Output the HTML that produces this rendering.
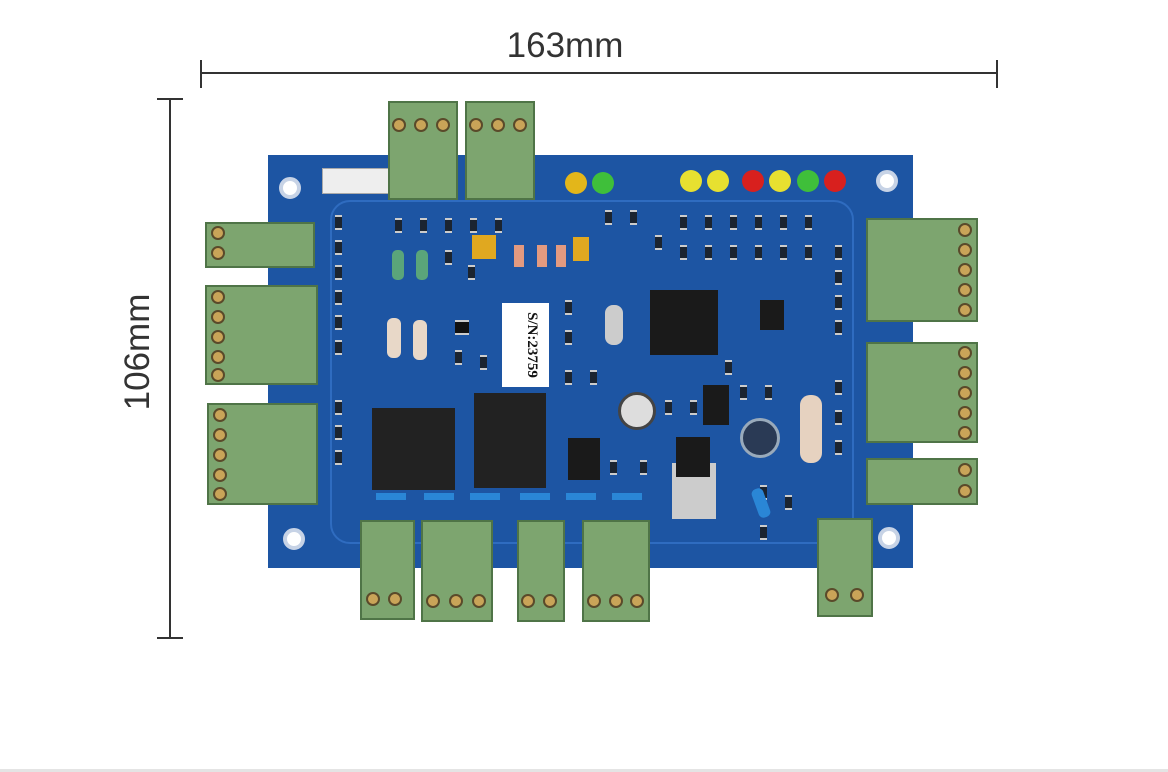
<!DOCTYPE html>
<html><head><style>
body{margin:0;width:1168px;height:772px;background:#fff;position:relative;overflow:hidden;font-family:"Liberation Sans",sans-serif}
.a{position:absolute}
.tb{position:absolute;background:#7da56f;border:2px solid #4f7447;box-sizing:border-box}
.sc{position:absolute;width:14px;height:14px;border-radius:50%;background:#c9a458;border:2px solid #5a4a2a;box-sizing:border-box}
.hole{position:absolute;width:22px;height:22px;border-radius:50%;background:#fff;border:4px solid #c7d3e6;box-sizing:border-box}
.led{position:absolute;width:22px;height:22px;border-radius:50%}
.blk{position:absolute;background:#1a1a1a}
.s{position:absolute;width:7px;height:11px;background:#1b2430;border-top:2px solid #ccc;border-bottom:2px solid #ccc}
</style></head><body>
<div class="a" style="left:0;top:769px;width:1168px;height:3px;background:#e4e4e4"></div>
<div class="a" style="left:201px;top:72px;width:796px;height:2px;background:#333"></div>
<div class="a" style="left:200px;top:60px;width:2px;height:28px;background:#333"></div>
<div class="a" style="left:996px;top:60px;width:2px;height:28px;background:#333"></div>
<div class="a" style="left:440px;top:26px;width:250px;text-align:center;font-size:35px;color:#333">163mm</div>
<div class="a" style="left:169px;top:99px;width:2px;height:540px;background:#333"></div>
<div class="a" style="left:157px;top:98px;width:26px;height:2px;background:#333"></div>
<div class="a" style="left:157px;top:637px;width:26px;height:2px;background:#333"></div>
<div class="a" style="left:38px;top:332px;width:200px;text-align:center;font-size:35px;color:#333;transform:rotate(-90deg)">106mm</div>
<div class="a" style="left:268px;top:155px;width:645px;height:413px;background:#1d55a3"></div>
<div class="a" style="left:330px;top:200px;width:520px;height:340px;border:2px solid #2f6cc0;border-radius:20px"></div>
<div class="hole" style="left:279px;top:177px"></div>
<div class="hole" style="left:876px;top:170px"></div>
<div class="hole" style="left:283px;top:528px"></div>
<div class="hole" style="left:878px;top:527px"></div>
<div class="a" style="left:322px;top:168px;width:66px;height:24px;background:#eee;border:1px solid #aaa"></div>
<!-- small smd parts -->
<div class="s" style="left:335px;top:215px"></div><div class="s" style="left:335px;top:240px"></div><div class="s" style="left:335px;top:265px"></div><div class="s" style="left:335px;top:290px"></div><div class="s" style="left:335px;top:315px"></div><div class="s" style="left:335px;top:340px"></div><div class="s" style="left:335px;top:400px"></div><div class="s" style="left:335px;top:425px"></div><div class="s" style="left:335px;top:450px"></div>
<div class="s" style="left:835px;top:245px"></div><div class="s" style="left:835px;top:270px"></div><div class="s" style="left:835px;top:295px"></div><div class="s" style="left:835px;top:320px"></div><div class="s" style="left:835px;top:380px"></div><div class="s" style="left:835px;top:410px"></div><div class="s" style="left:835px;top:440px"></div>
<div class="s" style="left:605px;top:210px"></div><div class="s" style="left:630px;top:210px"></div><div class="s" style="left:655px;top:235px"></div><div class="s" style="left:680px;top:215px"></div><div class="s" style="left:705px;top:215px"></div><div class="s" style="left:730px;top:215px"></div><div class="s" style="left:755px;top:215px"></div><div class="s" style="left:780px;top:215px"></div><div class="s" style="left:805px;top:215px"></div>
<div class="s" style="left:680px;top:245px"></div><div class="s" style="left:705px;top:245px"></div><div class="s" style="left:730px;top:245px"></div><div class="s" style="left:755px;top:245px"></div><div class="s" style="left:780px;top:245px"></div><div class="s" style="left:805px;top:245px"></div>
<div class="s" style="left:565px;top:300px"></div><div class="s" style="left:565px;top:330px"></div><div class="s" style="left:565px;top:370px"></div><div class="s" style="left:590px;top:370px"></div><div class="s" style="left:610px;top:460px"></div><div class="s" style="left:640px;top:460px"></div><div class="s" style="left:665px;top:400px"></div><div class="s" style="left:690px;top:400px"></div><div class="s" style="left:740px;top:385px"></div><div class="s" style="left:765px;top:385px"></div><div class="s" style="left:725px;top:360px"></div>
<div class="s" style="left:445px;top:250px"></div><div class="s" style="left:468px;top:265px"></div><div class="s" style="left:455px;top:350px"></div><div class="s" style="left:480px;top:355px"></div><div class="s" style="left:455px;top:320px;width:14px;background:#111"></div>
<div class="s" style="left:395px;top:218px"></div><div class="s" style="left:420px;top:218px"></div><div class="s" style="left:445px;top:218px"></div><div class="s" style="left:470px;top:218px"></div><div class="s" style="left:495px;top:218px"></div>
<div class="s" style="left:760px;top:485px"></div><div class="s" style="left:785px;top:495px"></div><div class="s" style="left:760px;top:525px"></div>
<div class="a" style="left:755px;top:488px;width:12px;height:30px;background:#2a86d6;border-radius:5px;transform:rotate(-20deg)"></div>
<div class="blk" style="left:650px;top:290px;width:68px;height:65px"></div>
<div class="blk" style="left:372px;top:408px;width:83px;height:82px;background:#222"></div>
<div class="blk" style="left:474px;top:393px;width:72px;height:95px;background:#222"></div>
<div class="blk" style="left:568px;top:438px;width:32px;height:42px"></div>
<div class="blk" style="left:760px;top:300px;width:24px;height:30px"></div>
<div class="blk" style="left:703px;top:385px;width:26px;height:40px"></div>
<div class="a" style="left:672px;top:463px;width:44px;height:56px;background:#ccc"></div>
<div class="blk" style="left:676px;top:437px;width:34px;height:40px"></div>
<div class="a" style="left:618px;top:392px;width:38px;height:38px;border-radius:50%;background:#ddd;border:3px solid #444;box-sizing:border-box"></div>
<div class="a" style="left:740px;top:418px;width:40px;height:40px;border-radius:50%;background:#2a3a55;border:3px solid #9ab;box-sizing:border-box"></div>
<div class="a" style="left:502px;top:303px;width:47px;height:84px;background:#fff"></div>
<div class="a" style="left:485px;top:332px;width:84px;height:26px;font:bold 15px 'Liberation Serif',serif;color:#111;transform:rotate(90deg);text-align:center">S/N:23759</div>
<div class="a" style="left:605px;top:305px;width:18px;height:40px;background:#ccc;border-radius:8px"></div>
<div class="a" style="left:800px;top:395px;width:22px;height:68px;background:#e6d2c0;border-radius:10px"></div>
<div class="a" style="left:392px;top:250px;width:12px;height:30px;background:#5aa57a;border-radius:5px"></div>
<div class="a" style="left:416px;top:250px;width:12px;height:30px;background:#5aa57a;border-radius:5px"></div>
<div class="a" style="left:387px;top:318px;width:14px;height:40px;background:#e8d8c8;border-radius:6px"></div>
<div class="a" style="left:413px;top:320px;width:14px;height:40px;background:#e8d8c8;border-radius:6px"></div>
<div class="a" style="left:472px;top:235px;width:24px;height:24px;background:#e0a820"></div>
<div class="a" style="left:573px;top:237px;width:16px;height:24px;background:#e0a820"></div>
<div class="a" style="left:514px;top:245px;width:10px;height:22px;background:#e39a80"></div>
<div class="a" style="left:537px;top:245px;width:10px;height:22px;background:#e39a80"></div>
<div class="a" style="left:556px;top:245px;width:10px;height:22px;background:#e39a80"></div>
<div class="led" style="left:565px;top:172px;background:#e3b61a"></div>
<div class="led" style="left:592px;top:172px;background:#3fbf3a"></div>
<div class="led" style="left:680px;top:170px;background:#e7e030"></div>
<div class="led" style="left:707px;top:170px;background:#e7e030"></div>
<div class="led" style="left:742px;top:170px;background:#d8201e"></div>
<div class="led" style="left:769px;top:170px;background:#e7e030"></div>
<div class="led" style="left:797px;top:170px;background:#3fbf3a"></div>
<div class="led" style="left:824px;top:170px;background:#d8201e"></div>
<div class="a" style="left:376px;top:493px;width:30px;height:7px;background:#2a86d6"></div>
<div class="a" style="left:424px;top:493px;width:30px;height:7px;background:#2a86d6"></div>
<div class="a" style="left:470px;top:493px;width:30px;height:7px;background:#2a86d6"></div>
<div class="a" style="left:520px;top:493px;width:30px;height:7px;background:#2a86d6"></div>
<div class="a" style="left:566px;top:493px;width:30px;height:7px;background:#2a86d6"></div>
<div class="a" style="left:612px;top:493px;width:30px;height:7px;background:#2a86d6"></div>
<div class="tb" style="left:388px;top:101px;width:70px;height:99px"></div>
<div class="tb" style="left:465px;top:101px;width:70px;height:99px"></div>
<div class="sc" style="left:392px;top:118px"></div><div class="sc" style="left:414px;top:118px"></div><div class="sc" style="left:436px;top:118px"></div>
<div class="sc" style="left:469px;top:118px"></div><div class="sc" style="left:491px;top:118px"></div><div class="sc" style="left:513px;top:118px"></div>
<div class="tb" style="left:205px;top:222px;width:110px;height:46px"></div>
<div class="tb" style="left:205px;top:285px;width:113px;height:100px"></div>
<div class="tb" style="left:207px;top:403px;width:111px;height:102px"></div>
<div class="sc" style="left:211px;top:226px"></div><div class="sc" style="left:211px;top:246px"></div>
<div class="sc" style="left:211px;top:290px"></div><div class="sc" style="left:211px;top:310px"></div><div class="sc" style="left:211px;top:330px"></div><div class="sc" style="left:211px;top:350px"></div><div class="sc" style="left:211px;top:368px"></div>
<div class="sc" style="left:213px;top:408px"></div><div class="sc" style="left:213px;top:428px"></div><div class="sc" style="left:213px;top:448px"></div><div class="sc" style="left:213px;top:468px"></div><div class="sc" style="left:213px;top:487px"></div>
<div class="tb" style="left:866px;top:218px;width:112px;height:104px"></div>
<div class="tb" style="left:866px;top:342px;width:112px;height:101px"></div>
<div class="tb" style="left:866px;top:458px;width:112px;height:47px"></div>
<div class="sc" style="left:958px;top:223px"></div><div class="sc" style="left:958px;top:243px"></div><div class="sc" style="left:958px;top:263px"></div><div class="sc" style="left:958px;top:283px"></div><div class="sc" style="left:958px;top:303px"></div>
<div class="sc" style="left:958px;top:346px"></div><div class="sc" style="left:958px;top:366px"></div><div class="sc" style="left:958px;top:386px"></div><div class="sc" style="left:958px;top:406px"></div><div class="sc" style="left:958px;top:426px"></div>
<div class="sc" style="left:958px;top:463px"></div><div class="sc" style="left:958px;top:484px"></div>
<div class="tb" style="left:360px;top:520px;width:55px;height:100px"></div>
<div class="tb" style="left:421px;top:520px;width:72px;height:102px"></div>
<div class="tb" style="left:517px;top:520px;width:48px;height:102px"></div>
<div class="tb" style="left:582px;top:520px;width:68px;height:102px"></div>
<div class="tb" style="left:817px;top:518px;width:56px;height:99px"></div>
<div class="sc" style="left:366px;top:592px"></div><div class="sc" style="left:388px;top:592px"></div>
<div class="sc" style="left:426px;top:594px"></div><div class="sc" style="left:449px;top:594px"></div><div class="sc" style="left:472px;top:594px"></div>
<div class="sc" style="left:521px;top:594px"></div><div class="sc" style="left:543px;top:594px"></div>
<div class="sc" style="left:587px;top:594px"></div><div class="sc" style="left:609px;top:594px"></div><div class="sc" style="left:630px;top:594px"></div>
<div class="sc" style="left:825px;top:588px"></div><div class="sc" style="left:850px;top:588px"></div>
</body></html>
